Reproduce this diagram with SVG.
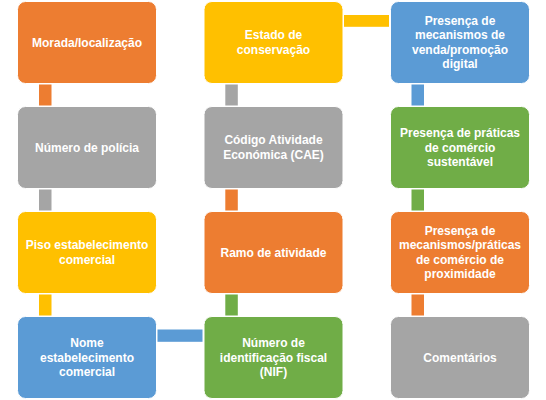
<svg xmlns="http://www.w3.org/2000/svg" width="546" height="400" viewBox="0 0 546 400">
<style>
.box{stroke:#ffffff;stroke-width:1}
.o{fill:#ED7D31}.g{fill:#A5A5A5}.y{fill:#FFC000}.b{fill:#5B9BD5}.gr{fill:#70AD47}
text{font-family:"Liberation Sans",Arial,sans-serif;font-weight:bold;font-size:12px;fill:#ffffff;text-anchor:middle}
</style>
<rect width="546" height="400" fill="#ffffff"/>
<g id="connectors">
<rect class="o" x="39" y="84.5" width="12.5" height="21"/>
<rect class="g" x="39" y="189.5" width="12.5" height="21"/>
<rect class="y" x="39" y="294.5" width="12.5" height="21"/>
<rect class="b" x="157.5" y="329.5" width="45" height="12.3"/>
<rect class="gr" x="225.3" y="294.5" width="12.5" height="21"/>
<rect class="o" x="225.3" y="189.5" width="12.5" height="21"/>
<rect class="g" x="225.3" y="84.5" width="12.5" height="21"/>
<rect class="y" x="344" y="15" width="45" height="11.8"/>
<rect class="b" x="411.5" y="84.5" width="12.5" height="21"/>
<rect class="gr" x="411.5" y="189.5" width="12.5" height="21"/>
<rect class="o" x="411.5" y="294.5" width="12.5" height="21"/>
</g>
<g id="n1"><rect class="box o" x="17.5" y="1.5" width="139" height="82" rx="8"/><text x="87" y="46.5">Morada/localização</text></g>
<g id="n2"><rect class="box g" x="17.5" y="106.5" width="139" height="82" rx="8"/><text x="87" y="151.5">Número de polícia</text></g>
<g id="n3"><rect class="box y" x="17.5" y="211.5" width="139" height="82" rx="8"/><text x="87" y="249.3">Piso estabelecimento</text><text x="87" y="263.7">comercial</text></g>
<g id="n4"><rect class="box b" x="17.5" y="316.5" width="139" height="82" rx="8"/><text x="87" y="347.1">Nome</text><text x="87" y="361.5">estabelecimento</text><text x="87" y="375.9">comercial</text></g>
<g id="n5"><rect class="box gr" x="204" y="316.5" width="139" height="82" rx="8"/><text x="273.5" y="347.1">Número de</text><text x="273.5" y="361.5">identificação fiscal</text><text x="273.5" y="375.9">(NIF)</text></g>
<g id="n6"><rect class="box o" x="204" y="211.5" width="139" height="82" rx="8"/><text x="273.5" y="256.5">Ramo de atividade</text></g>
<g id="n7"><rect class="box g" x="204" y="106.5" width="139" height="82" rx="8"/><text x="273.5" y="144.3">Código Atividade</text><text x="273.5" y="158.7">Económica (CAE)</text></g>
<g id="n8"><rect class="box y" x="204" y="1.5" width="139" height="82" rx="8"/><text x="273.5" y="39.3">Estado de</text><text x="273.5" y="53.7">conservação</text></g>
<g id="n9"><rect class="box b" x="390.5" y="1.5" width="139" height="82" rx="8"/><text x="460" y="24.9">Presença de</text><text x="460" y="39.3">mecanismos de</text><text x="460" y="53.7">venda/promoção</text><text x="460" y="68.1">digital</text></g>
<g id="n10"><rect class="box gr" x="390.5" y="106.5" width="139" height="82" rx="8"/><text x="460" y="137.1">Presença de práticas</text><text x="460" y="151.5">de comércio</text><text x="460" y="165.9">sustentável</text></g>
<g id="n11"><rect class="box o" x="390.5" y="211.5" width="139" height="82" rx="8"/><text x="460" y="234.9">Presença de</text><text x="460" y="249.3">mecanismos/práticas</text><text x="460" y="263.7">de comércio de</text><text x="460" y="278.1">proximidade</text></g>
<g id="n12"><rect class="box g" x="390.5" y="316.5" width="139" height="82" rx="8"/><text x="460" y="361.5">Comentários</text></g>
</svg>
